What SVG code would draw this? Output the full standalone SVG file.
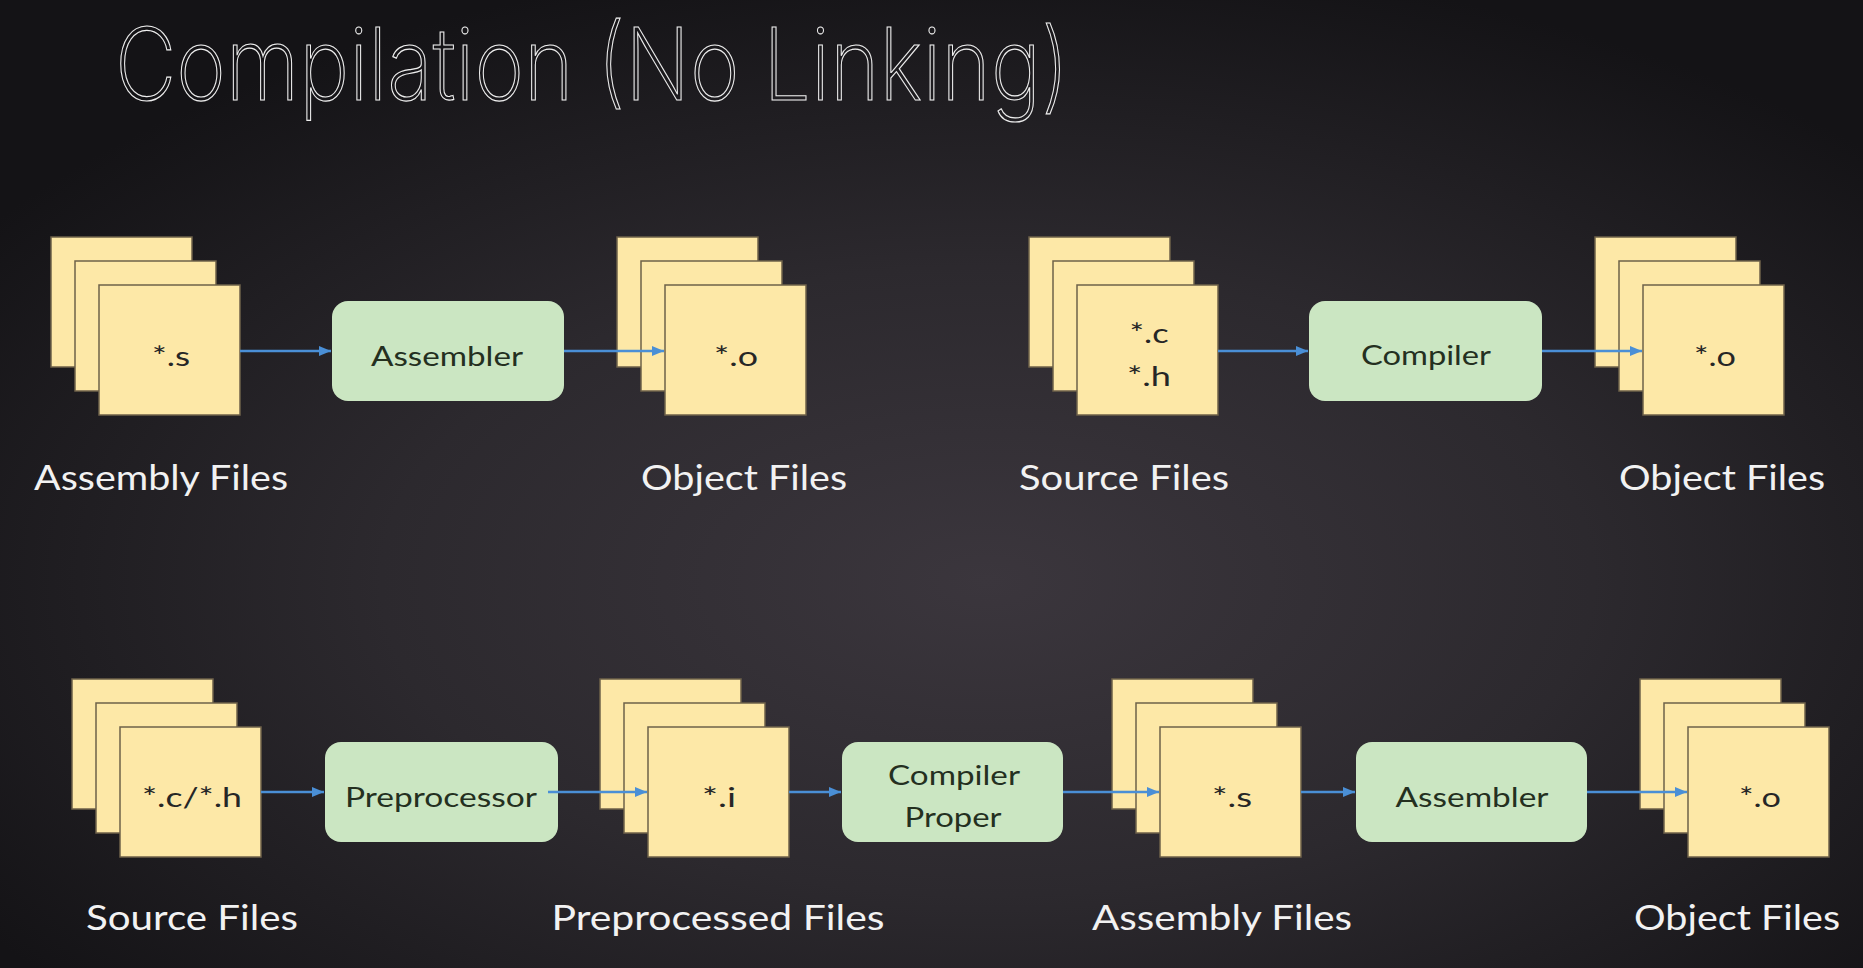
<svg xmlns="http://www.w3.org/2000/svg" width="1863" height="968" viewBox="0 0 1863 968">
  <defs>
    <radialGradient id="bg" cx="0.53" cy="0.6" r="0.65">
      <stop offset="0" stop-color="#3b363d"/>
      <stop offset="0.5" stop-color="#2c292e"/>
      <stop offset="1" stop-color="#141316"/>
    </radialGradient>
    <marker id="arrowhead" viewBox="0 0 12 10" refX="12" refY="5" markerWidth="12" markerHeight="10" markerUnits="userSpaceOnUse" orient="auto">
      <path d="M0,0 L12,5 L0,10 Z" fill="#4a8fd6"/>
    </marker>
  </defs>
  <style>
    .sheet { fill: #fde8a7; stroke: #6e6149; stroke-width: 1.5; }
    .tool { fill: #cbe6c2; }
    .ext { font-family: Lato, "Open Sans", sans-serif; font-size: 26px; fill: #262626; text-anchor: middle; }
    .toolname { font-family: Lato, "Open Sans", sans-serif; font-size: 26px; fill: #24301f; text-anchor: middle; }
    .label { font-family: Lato, "Open Sans", sans-serif; font-size: 35px; fill: #f2f2f2; text-anchor: middle; }
    .title { font-family: Inter, "Liberation Sans", sans-serif; font-size: 100px; font-weight: 150; fill: none; stroke: #eeeeee; stroke-width: 1.2; }
    .link { stroke: #4a8fd6; stroke-width: 2.5; fill: none; marker-end: url(#arrowhead); }
  </style>

  <rect width="1863" height="968" fill="url(#bg)"/>

  <text class="title" x="115" y="100" textLength="954" lengthAdjust="spacingAndGlyphs">Compilation (No Linking)</text>

  <!-- Row 1: assembling -->
  <g id="assembly-files-1">
    <rect class="sheet" x="51" y="237" width="141" height="130"/>
    <rect class="sheet" x="75" y="261" width="141" height="130"/>
    <rect class="sheet" x="99" y="285" width="141" height="130"/>
    <text class="ext" x="171" y="366" textLength="38" lengthAdjust="spacingAndGlyphs">*.s</text>
    <text class="label" x="161" y="490" textLength="254" lengthAdjust="spacingAndGlyphs">Assembly Files</text>
  </g>
  <g id="assembler-1">
    <rect class="tool" x="332" y="301" width="232" height="100" rx="16"/>
    <text class="toolname" x="447" y="366" textLength="152" lengthAdjust="spacingAndGlyphs">Assembler</text>
  </g>
  <g id="object-files-1">
    <rect class="sheet" x="617" y="237" width="141" height="130"/>
    <rect class="sheet" x="641" y="261" width="141" height="130"/>
    <rect class="sheet" x="665" y="285" width="141" height="130"/>
    <text class="ext" x="736" y="366" textLength="44" lengthAdjust="spacingAndGlyphs">*.o</text>
    <text class="label" x="744" y="490" textLength="206" lengthAdjust="spacingAndGlyphs">Object Files</text>
  </g>

  <!-- Row 1: compiling -->
  <g id="source-files-1">
    <rect class="sheet" x="1029" y="237" width="141" height="130"/>
    <rect class="sheet" x="1053" y="261" width="141" height="130"/>
    <rect class="sheet" x="1077" y="285" width="141" height="130"/>
    <text class="ext" x="1149" y="343" textLength="39" lengthAdjust="spacingAndGlyphs">*.c</text>
    <text class="ext" x="1149" y="386" textLength="44" lengthAdjust="spacingAndGlyphs">*.h</text>
    <text class="label" x="1124" y="490" textLength="210" lengthAdjust="spacingAndGlyphs">Source Files</text>
  </g>
  <g id="compiler-1">
    <rect class="tool" x="1309" y="301" width="233" height="100" rx="16"/>
    <text class="toolname" x="1426" y="365" textLength="130" lengthAdjust="spacingAndGlyphs">Compiler</text>
  </g>
  <g id="object-files-2">
    <rect class="sheet" x="1595" y="237" width="141" height="130"/>
    <rect class="sheet" x="1619" y="261" width="141" height="130"/>
    <rect class="sheet" x="1643" y="285" width="141" height="130"/>
    <text class="ext" x="1715" y="366" textLength="42" lengthAdjust="spacingAndGlyphs">*.o</text>
    <text class="label" x="1722" y="490" textLength="206" lengthAdjust="spacingAndGlyphs">Object Files</text>
  </g>

  <!-- Row 2: the full pipeline -->
  <g id="source-files-2">
    <rect class="sheet" x="72" y="679" width="141" height="130"/>
    <rect class="sheet" x="96" y="703" width="141" height="130"/>
    <rect class="sheet" x="120" y="727" width="141" height="130"/>
    <text class="ext" x="192" y="807" textLength="100" lengthAdjust="spacingAndGlyphs">*.c/*.h</text>
    <text class="label" x="192" y="930" textLength="212" lengthAdjust="spacingAndGlyphs">Source Files</text>
  </g>
  <g id="preprocessor">
    <rect class="tool" x="325" y="742" width="233" height="100" rx="16"/>
    <text class="toolname" x="441" y="807" textLength="192" lengthAdjust="spacingAndGlyphs">Preprocessor</text>
  </g>
  <g id="preprocessed-files">
    <rect class="sheet" x="600" y="679" width="141" height="130"/>
    <rect class="sheet" x="624" y="703" width="141" height="130"/>
    <rect class="sheet" x="648" y="727" width="141" height="130"/>
    <text class="ext" x="719" y="807" textLength="34" lengthAdjust="spacingAndGlyphs">*.i</text>
    <text class="label" x="718" y="930" textLength="333" lengthAdjust="spacingAndGlyphs">Preprocessed Files</text>
  </g>
  <g id="compiler-proper">
    <rect class="tool" x="842" y="742" width="221" height="100" rx="16"/>
    <text class="toolname" x="954" y="785" textLength="132" lengthAdjust="spacingAndGlyphs">Compiler</text>
    <text class="toolname" x="953" y="827" textLength="97" lengthAdjust="spacingAndGlyphs">Proper</text>
  </g>
  <g id="assembly-files-2">
    <rect class="sheet" x="1112" y="679" width="141" height="130"/>
    <rect class="sheet" x="1136" y="703" width="141" height="130"/>
    <rect class="sheet" x="1160" y="727" width="141" height="130"/>
    <text class="ext" x="1232" y="807" textLength="40" lengthAdjust="spacingAndGlyphs">*.s</text>
    <text class="label" x="1222" y="930" textLength="260" lengthAdjust="spacingAndGlyphs">Assembly Files</text>
  </g>
  <g id="assembler-2">
    <rect class="tool" x="1356" y="742" width="231" height="100" rx="16"/>
    <text class="toolname" x="1472" y="807" textLength="153" lengthAdjust="spacingAndGlyphs">Assembler</text>
  </g>
  <g id="object-files-3">
    <rect class="sheet" x="1640" y="679" width="141" height="130"/>
    <rect class="sheet" x="1664" y="703" width="141" height="130"/>
    <rect class="sheet" x="1688" y="727" width="141" height="130"/>
    <text class="ext" x="1760" y="807" textLength="42" lengthAdjust="spacingAndGlyphs">*.o</text>
    <text class="label" x="1737" y="930" textLength="206" lengthAdjust="spacingAndGlyphs">Object Files</text>
  </g>

  <!-- Connectors, drawn over the stacked sheets -->
  <g id="connectors">
    <line class="link" x1="240" y1="351" x2="331" y2="351"/>
    <line class="link" x1="564" y1="351" x2="664" y2="351"/>
    <line class="link" x1="1218" y1="351" x2="1308" y2="351"/>
    <line class="link" x1="1542" y1="351" x2="1642" y2="351"/>
    <line class="link" x1="261" y1="792" x2="324" y2="792"/>
    <line class="link" x1="548" y1="792" x2="647" y2="792"/>
    <line class="link" x1="789" y1="792" x2="841" y2="792"/>
    <line class="link" x1="1063" y1="792" x2="1159" y2="792"/>
    <line class="link" x1="1301" y1="792" x2="1355" y2="792"/>
    <line class="link" x1="1587" y1="792" x2="1687" y2="792"/>
  </g>
</svg>
